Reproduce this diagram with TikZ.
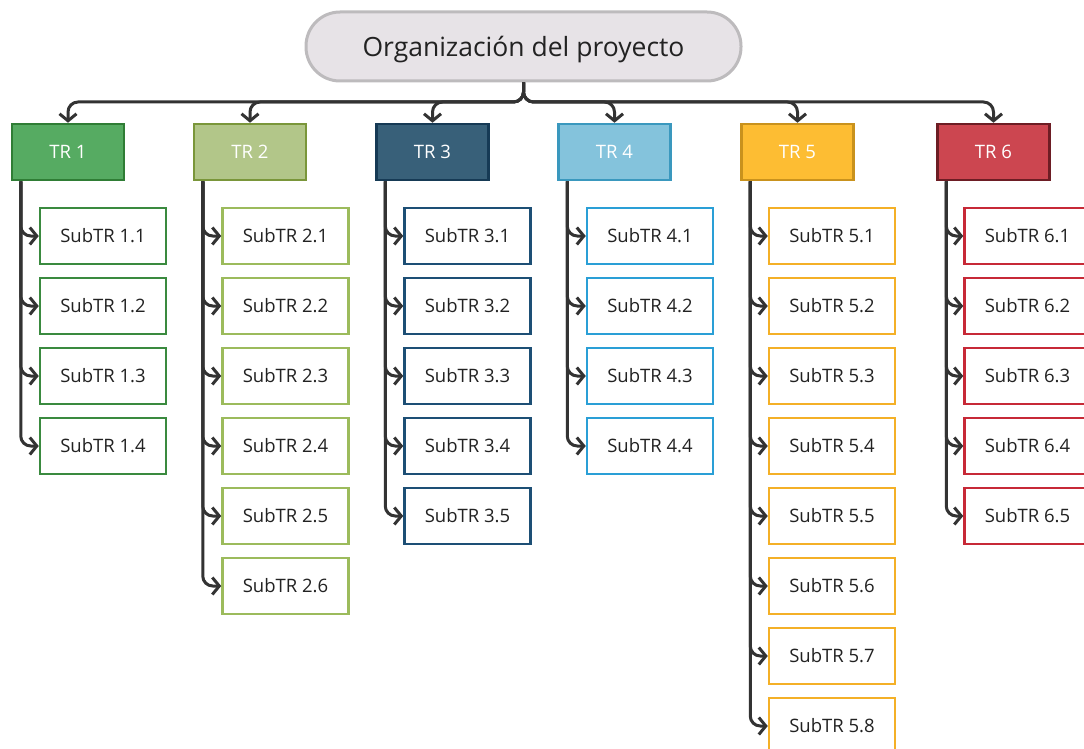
\documentclass[tikz,border=0pt]{standalone}
\usepackage{fontspec}
\setmainfont{Open Sans}
\usetikzlibrary{arrows.meta}
\definecolor{conncol}{HTML}{333333}
\definecolor{textcol}{HTML}{222222}
\definecolor{rootfill}{HTML}{E7E3E7}
\definecolor{rootbord}{HTML}{BDBBBD}
\definecolor{trfill1}{HTML}{56AB62}\definecolor{trbord1}{HTML}{2F7D35}\definecolor{subbord1}{HTML}{3A8A3F}
\definecolor{trfill2}{HTML}{B2C689}\definecolor{trbord2}{HTML}{7A963A}\definecolor{subbord2}{HTML}{9CBB5C}
\definecolor{trfill3}{HTML}{386079}\definecolor{trbord3}{HTML}{163A55}\definecolor{subbord3}{HTML}{1D4F75}
\definecolor{trfill4}{HTML}{84C3DC}\definecolor{trbord4}{HTML}{3A98BE}\definecolor{subbord4}{HTML}{2A9FD6}
\definecolor{trfill5}{HTML}{FDBD33}\definecolor{trbord5}{HTML}{C9921D}\definecolor{subbord5}{HTML}{F4B027}
\definecolor{trfill6}{HTML}{CC4650}\definecolor{trbord6}{HTML}{6D1D24}\definecolor{subbord6}{HTML}{C72937}
\begin{document}
\begin{tikzpicture}[x=1pt,y=-1pt,
  conn/.style={draw=conncol, line width=3pt, rounded corners=10pt, -{Straight Barb[length=7pt,width=17pt]}},
  rootbox/.style={minimum width=435pt, minimum height=69pt, rounded corners=34pt, line width=3pt, fill=rootfill, draw=rootbord, text=textcol, font=\fontsize{26.5}{30}\selectfont, inner sep=0},
  trbox/.style={minimum width=112pt, minimum height=56pt, line width=2.5pt, text=white, font=\fontsize{18.5}{22}\selectfont, inner sep=0},
  subbox/.style={minimum width=126pt, minimum height=56pt, line width=2.5pt, fill=white, text=textcol, font=\fontsize{18.5}{22}\selectfont, inner sep=0}]
\useasboundingbox (0,0) rectangle (1084,749);
\clip (0,0) rectangle (1084,749);
\node[rootbox] (root) at (523.5,46.5) {\raisebox{-3pt}[\height][\depth]{Organización del proyecto}};
\coordinate (bus) at (523.5,102);
\foreach \i/\cx/\sx/\n in {1/68/103/4, 2/250/285.5/6, 3/432.5/467.5/5, 4/614.5/650/4, 5/797.5/832/8, 6/993.5/1027.5/5} {
  \node[trbox, fill=trfill\i, draw=trbord\i] (tr\i) at (\cx,152) {TR \i};
  \draw[conn] (root.south) |- (tr\i.north |- bus) -- (tr\i.north);
  \foreach \k in {1,...,\n} {
    \node[subbox, draw=subbord\i] (s\i-\k) at ({\sx},{236+70*(\k-1)}) {SubTR \i.\k};
    \draw[conn] ([xshift=10pt]tr\i.south west) |- (s\i-\k.west);
  }
}
\end{tikzpicture}
\end{document}
